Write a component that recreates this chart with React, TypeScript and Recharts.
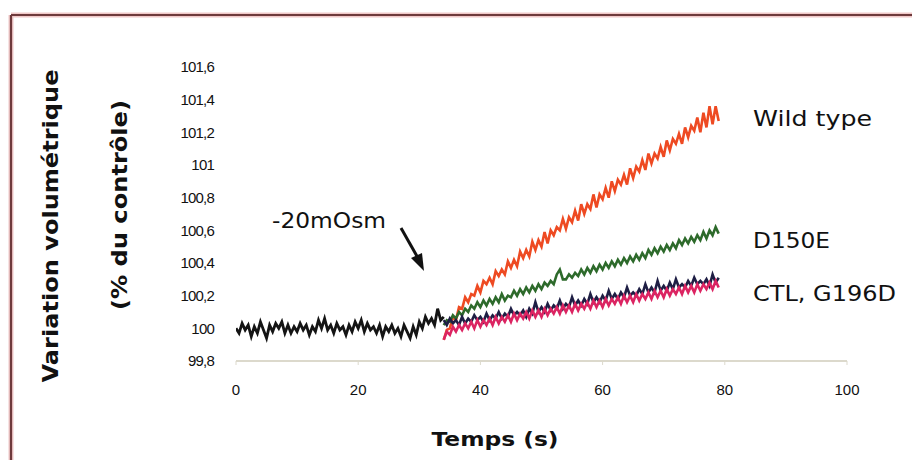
import React from 'react';
import { LineChart, Line, XAxis, YAxis, Customized } from 'recharts';

const SAMPLE_STEP = 0.5; // seconds between samples
const xTicks = [0, 20, 40, 60, 80, 100];
const yTicks = [99.8, 100, 100.2, 100.4, 100.6, 100.8, 101, 101.2, 101.4, 101.6];

// Control trace before the hypo-osmotic shock, t = 0 … 34 s
const baseline = [
  100.0, 99.97, 100.03, 99.99, 100.02, 99.95, 100.01, 99.97, 100.04, 99.99,
  99.94, 100.02, 99.98, 100.03, 100.0, 100.04, 99.97, 100.02, 99.97, 100.01,
  99.98, 100.03, 99.99, 100.02, 99.96, 100.01, 99.98, 100.05, 100.0, 100.06,
  99.99, 100.02, 99.97, 100.03, 99.99, 100.01, 99.96, 100.02, 99.98, 100.04,
  100.0, 100.05, 99.98, 100.03, 99.99, 100.01, 99.97, 100.02, 99.95, 100.01,
  99.98, 100.02, 99.97, 100.0, 99.95, 100.02, 99.98, 99.94, 100.01, 99.96,
  100.04, 100.0, 100.07, 100.03, 100.06, 100.02, 100.12, 100.05, 100.07,
];

// Traces after the shock, t = 34 … 79 s
const wildType = [
  99.93, 99.99, 100.0, 100.07, 100.05, 100.13, 100.12, 100.19, 100.16, 100.21,
  100.2, 100.26, 100.22, 100.29, 100.27, 100.31, 100.27, 100.35, 100.32, 100.36,
  100.33, 100.41, 100.37, 100.42, 100.38, 100.47, 100.43, 100.48, 100.44, 100.53,
  100.48, 100.54, 100.5, 100.59, 100.52, 100.6, 100.57, 100.62, 100.6, 100.67,
  100.61, 100.68, 100.65, 100.72, 100.66, 100.76, 100.7, 100.76, 100.73, 100.82,
  100.74, 100.82, 100.79, 100.86, 100.8, 100.9, 100.84, 100.91, 100.88, 100.94,
  100.88, 100.98, 100.92, 100.99, 100.96, 101.03, 100.97, 101.07, 101.01, 101.07,
  101.04, 101.11, 101.05, 101.15, 101.09, 101.16, 101.13, 101.19, 101.13, 101.23,
  101.17, 101.24, 101.21, 101.29, 101.2, 101.32, 101.23, 101.36, 101.25, 101.36,
  101.27,
];

const d150e = [
  100.02, 100.05, 100.04, 100.08, 100.06, 100.1, 100.08, 100.12, 100.1, 100.14,
  100.12, 100.16, 100.13, 100.17, 100.14, 100.18, 100.15, 100.19, 100.16, 100.21,
  100.17, 100.2, 100.19, 100.23, 100.2, 100.24, 100.21, 100.25, 100.22, 100.26,
  100.23, 100.27, 100.24, 100.28, 100.26, 100.29, 100.27, 100.33, 100.36, 100.3,
  100.3, 100.33, 100.31, 100.34, 100.32, 100.36, 100.33, 100.37, 100.34, 100.38,
  100.35, 100.39, 100.36, 100.4, 100.37, 100.41, 100.38, 100.42, 100.39, 100.43,
  100.4, 100.44, 100.41, 100.45, 100.42, 100.46, 100.43, 100.48, 100.45, 100.49,
  100.46, 100.5, 100.47, 100.51, 100.48, 100.52, 100.49, 100.54, 100.51, 100.55,
  100.52, 100.56, 100.53, 100.57, 100.54, 100.59, 100.55, 100.6, 100.57, 100.62,
  100.58,
];

const ctl = [
  100.05, 100.02, 100.06, 100.03, 100.05, 100.02, 100.07, 100.03, 100.06, 100.04,
  100.08, 100.05, 100.07, 100.04, 100.09, 100.05, 100.08, 100.06, 100.1, 100.06,
  100.09, 100.07, 100.12, 100.08, 100.1, 100.08, 100.11, 100.07, 100.12, 100.09,
  100.16, 100.1, 100.13, 100.1, 100.15, 100.11, 100.14, 100.12, 100.17, 100.12,
  100.15, 100.13, 100.19, 100.14, 100.17, 100.14, 100.18, 100.15, 100.21, 100.16,
  100.19, 100.16, 100.2, 100.17, 100.23, 100.18, 100.21, 100.18, 100.22, 100.19,
  100.25, 100.2, 100.22, 100.2, 100.24, 100.21, 100.27, 100.22, 100.25, 100.22,
  100.29, 100.23, 100.26, 100.23, 100.28, 100.24, 100.3, 100.25, 100.27, 100.25,
  100.29, 100.26, 100.31, 100.27, 100.29, 100.27, 100.3, 100.26, 100.33, 100.28,
  100.31,
];

const g196d = [
  99.93, 99.98, 99.96, 100.01, 99.98, 100.02, 99.99, 100.03, 100.0, 100.04,
  100.0, 100.05, 100.01, 100.05, 100.02, 100.06, 100.02, 100.07, 100.03, 100.07,
  100.04, 100.08, 100.04, 100.09, 100.05, 100.09, 100.06, 100.1, 100.06, 100.11,
  100.07, 100.11, 100.07, 100.12, 100.08, 100.12, 100.09, 100.13, 100.09, 100.14,
  100.1, 100.14, 100.1, 100.15, 100.11, 100.15, 100.12, 100.16, 100.12, 100.17,
  100.13, 100.17, 100.13, 100.18, 100.14, 100.18, 100.15, 100.19, 100.15, 100.2,
  100.16, 100.2, 100.16, 100.21, 100.17, 100.21, 100.18, 100.22, 100.18, 100.23,
  100.19, 100.23, 100.19, 100.24, 100.2, 100.24, 100.21, 100.25, 100.21, 100.26,
  100.22, 100.26, 100.22, 100.27, 100.23, 100.27, 100.24, 100.28, 100.24, 100.29,
  100.25,
];

const seriesLabels = ['Wild type', 'D150E', 'CTL, G196D'];
const stimulusLabel = '-20mOsm';
const xTitle = 'Temps (s)';
const yTitle1 = 'Variation volumétrique';
const yTitle2 = '(% du contrôle)';

const rows: Array<Record<string, number | null>> = [];
const shift = baseline.length - 1;
const total = shift + wildType.length;
for (let i = 0; i < total; i++) {
  const j = i - shift;
  rows.push({
    t: i * SAMPLE_STEP,
    base: i < baseline.length ? baseline[i] : null,
    wt: j >= 0 ? wildType[j] : null,
    d150e: j >= 0 ? d150e[j] : null,
    ctl: j >= 0 ? ctl[j] : null,
    g196d: j >= 0 ? g196d[j] : null,
  });
}

const fmt = (v: number) => {
  const r = Math.round(v * 10) / 10;
  return Number.isInteger(r) ? String(r) : r.toFixed(1).replace('.', ',');
};

const TITLE_FONT = '"DejaVu Sans", sans-serif';
const TICK_FONT = '"Liberation Sans", Arial, sans-serif';

const Decor = () => (
  <g>
    <line x1={11} y1={15} x2={912} y2={15} stroke="#f0c8c8" strokeWidth={5} />
    <line x1={11} y1={15} x2={11} y2={460} stroke="#f0c8c8" strokeWidth={5} />
    <line x1={11} y1={15} x2={912} y2={15} stroke="#6e3a3c" strokeWidth={2.2} />
    <line x1={11} y1={15} x2={11} y2={460} stroke="#6e3a3c" strokeWidth={2.2} />
    <text
      transform="translate(58,226) rotate(-90)"
      textAnchor="middle"
      fontFamily={TITLE_FONT}
      fontWeight="bold"
      fontSize={21}
      textLength={313}
      lengthAdjust="spacingAndGlyphs"
      fill="#111"
    >
      {yTitle1}
    </text>
    <text
      transform="translate(127,205) rotate(-90)"
      textAnchor="middle"
      fontFamily={TITLE_FONT}
      fontWeight="bold"
      fontSize={21}
      textLength={210}
      lengthAdjust="spacingAndGlyphs"
      fill="#111"
    >
      {yTitle2}
    </text>
    <text
      x={495}
      y={446}
      textAnchor="middle"
      fontFamily={TITLE_FONT}
      fontWeight="bold"
      fontSize={20}
      textLength={127}
      lengthAdjust="spacingAndGlyphs"
      fill="#111"
    >
      {xTitle}
    </text>
    <text x={753} y={126} fontFamily={TITLE_FONT} fontSize={21} textLength={119} lengthAdjust="spacingAndGlyphs" fill="#111">
      {seriesLabels[0]}
    </text>
    <text x={753} y={248} fontFamily={TITLE_FONT} fontSize={21} textLength={77} lengthAdjust="spacingAndGlyphs" fill="#111">
      {seriesLabels[1]}
    </text>
    <text x={753} y={301} fontFamily={TITLE_FONT} fontSize={21} textLength={143} lengthAdjust="spacingAndGlyphs" fill="#111">
      {seriesLabels[2]}
    </text>
    <text x={272} y={228} fontFamily={TITLE_FONT} fontSize={21} textLength={114} lengthAdjust="spacingAndGlyphs" fill="#111">
      {stimulusLabel}
    </text>
    <line x1={401} y1={228} x2={418} y2={258} stroke="#111" strokeWidth={3} />
    <polygon points="424,271 411,258 422,253" fill="#111" />
  </g>
);

export default function App() {
  return (
    <div style={{ position: 'absolute', left: 0, top: 0, width: 912, height: 460, background: '#fff' }}>
      <LineChart
        width={912}
        height={460}
        data={rows}
        margin={{ top: 67, right: 65, bottom: 69, left: 0 }}
      >
        <XAxis
          dataKey="t"
          type="number"
          domain={[0, 100]}
          ticks={xTicks}
          height={30}
          allowDataOverflow
          axisLine={{ stroke: '#dcd9cc', strokeWidth: 2 }}
          tickLine={{ stroke: '#dcd9cc' }}
          tickSize={4}
          tickMargin={19}
          tick={{ fill: '#111', fontSize: 15, fontFamily: TICK_FONT }}
        />
        <YAxis
          type="number"
          domain={[99.8, 101.6]}
          ticks={yTicks}
          width={236}
          axisLine={false}
          tickLine={false}
          tickSize={0}
          tickMargin={22}
          tickFormatter={fmt}
          tick={{ fill: '#111', fontSize: 15, fontFamily: TICK_FONT, letterSpacing: -0.8 }}
        />
        <Line dataKey="base" stroke="#141414" strokeWidth={2.8} dot={false} isAnimationActive={false} />
        <Line dataKey="wt" stroke="#ee4a22" strokeWidth={2.6} dot={false} isAnimationActive={false} />
        <Line dataKey="d150e" stroke="#2d6a2b" strokeWidth={2.6} dot={false} isAnimationActive={false} />
        <Line dataKey="ctl" stroke="#1e1e44" strokeWidth={2.6} dot={false} isAnimationActive={false} />
        <Line dataKey="g196d" stroke="#dc2462" strokeWidth={2.6} dot={false} isAnimationActive={false} />
        <Customized component={Decor} />
      </LineChart>
    </div>
  );
}
